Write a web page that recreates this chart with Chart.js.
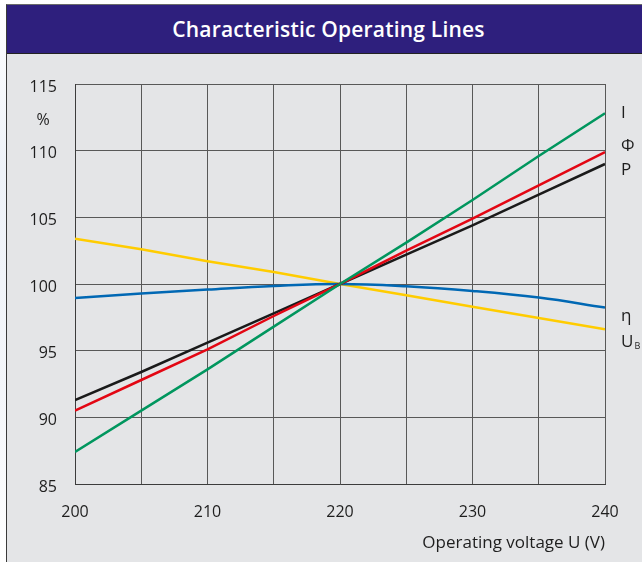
<!DOCTYPE html>
<html>
<head>
<meta charset="utf-8">
<script src="https://cdn.jsdelivr.net/npm/chart.js@4/dist/chart.umd.min.js"></script>
<style>
  html, body { margin: 0; padding: 0; }
  body {
    width: 642px; height: 562px; position: relative; overflow: hidden;
    background: linear-gradient(180deg, #ffffff 0%, #eef2f8 30%, #f4f6fa 70%, #ffffff 100%);
    font-family: "Open Sans", sans-serif;
  }
  #panel {
    position: absolute; left: 6px; top: 4px; right: 0; bottom: 0;
    background: #e4e5e7;
    border-left: 1px solid #3a3a3a;
    border-top: 1px solid #6a6a6a;
  }
  #head {
    position: absolute; left: 7px; top: 5px; right: 0; height: 49px;
    background: #2e1f7d;
    border-bottom: 1px solid #222;
    color: #fff; font-weight: 600; font-size: 21px;
    display: flex; align-items: center; justify-content: center;
    padding-left: 8px; box-sizing: border-box; letter-spacing: 0.2px;
  }
  #chart { position: absolute; left: 0; top: 0; }
</style>
</head>
<body>
<div id="panel"></div>
<div id="head">Characteristic Operating Lines</div>
<canvas id="chart" width="642" height="562"></canvas>
<script>
// Operating voltage in volts
const voltage = [200, 205, 210, 215, 220, 225, 230, 235, 240];

// Relative values in % of the rated value at 220 V
const current   = [87.4, 90.5, 93.6, 96.8, 100, 103.1, 106.3, 109.6, 112.8]; // I
const flux      = [90.5, 92.8, 95.1, 97.6, 100, 102.5, 104.9, 107.4, 109.9]; // Φ
const power     = [91.3, 93.4, 95.6, 97.8, 100, 102.2, 104.4, 106.7, 109.0]; // P
const efficacy  = [98.95, 99.28, 99.58, 99.85, 100, 99.83, 99.48, 98.98, 98.23]; // η
const burnVolt  = [103.4, 102.6, 101.7, 100.9, 100, 99.15, 98.3, 97.45, 96.6]; // U_B

const xTicks = [200, 210, 220, 230, 240];
const yTicks = [85, 90, 95, 100, 105, 110, 115];

const seriesNames = ['I', 'Φ', 'P', 'η', 'U'];

function pts(values) {
  return voltage.map((v, i) => ({ x: v, y: values[i] }));
}

const gridColor = '#585858';
const textColor = '#1e1e1e';

// Series names written beside the right end of each curve
const endLabels = {
  id: 'endLabels',
  afterDatasetsDraw(chart) {
    const ctx = chart.ctx;
    const ys = chart.scales.y;
    const area = chart.chartArea;
    const x = area.right + 16;
    const shifts = [0, -6, 6, 9, 13];
    ctx.save();
    ctx.fillStyle = textColor;
    ctx.textBaseline = 'middle';
    ctx.textAlign = 'left';
    chart.data.datasets.forEach((ds, i) => {
      const last = ds.data[ds.data.length - 1].y;
      const y = ys.getPixelForValue(last) + shifts[i];
      ctx.font = '17px "Open Sans", sans-serif';
      ctx.fillText(seriesNames[i], x, y);
      if (i === 4) {
        const w = ctx.measureText(seriesNames[i]).width;
        ctx.font = '9px "Open Sans", sans-serif';
        ctx.fillText('B', x + w + 1, y + 4);
      }
    });

    // unit of the vertical axis
    ctx.font = '16px "Open Sans", sans-serif';
    ctx.textAlign = 'center';
    ctx.fillText('%', 43, (ys.getPixelForValue(115) + ys.getPixelForValue(110)) / 2 + 3);

    // title of the horizontal axis
    ctx.textAlign = 'right';
    ctx.font = '17px "Open Sans", sans-serif';
    ctx.fillText('Operating voltage U (V)', area.right, area.bottom + 59);
    ctx.restore();
  }
};

new Chart(document.getElementById('chart'), {
  type: 'line',
  data: {
    datasets: [
      { label: 'I', data: pts(current), borderColor: '#00965e' },
      { label: 'Φ', data: pts(flux), borderColor: '#e30613' },
      { label: 'P', data: pts(power), borderColor: '#1a1a1a' },
      { label: 'η', data: pts(efficacy), borderColor: '#0068b4', tension: 0.4 },
      { label: 'UB', data: pts(burnVolt), borderColor: '#ffcc00' }
    ].map(d => Object.assign({ borderWidth: 2.5, pointRadius: 0, fill: false, tension: 0 }, d))
  },
  options: {
    responsive: false,
    animation: false,
    devicePixelRatio: 1,
    layout: { padding: { top: 84, right: 37, left: 0, bottom: 0 } },
    plugins: { legend: { display: false }, tooltip: { enabled: false }, title: { display: false } },
    scales: {
      x: {
        type: 'linear', min: 200, max: 240,
        afterFit(s) { s.height = 78; },
        afterBuildTicks(s) {
          s.ticks = [];
          for (let v = 200; v <= 240; v += 5) s.ticks.push({ value: v });
        },
        ticks: {
          autoSkip: false, maxRotation: 0, padding: 19,
          color: textColor, font: { size: 16, family: '"Open Sans", sans-serif' },
          callback: v => (xTicks.includes(v) ? String(v) : '')
        },
        grid: { color: gridColor, lineWidth: 1, drawTicks: false },
        border: { display: true, color: '#3c3c3c', width: 1 }
      },
      y: {
        type: 'linear', min: 85, max: 115,
        afterFit(s) { s.width = 75; },
        afterBuildTicks(s) { s.ticks = yTicks.map(v => ({ value: v })); },
        ticks: {
          padding: 18, labelOffset: 3,
          color: textColor, font: { size: 16, family: '"Open Sans", sans-serif' },
          callback: v => String(v)
        },
        grid: { color: gridColor, lineWidth: 1, drawTicks: false },
        border: { display: true, color: '#3c3c3c', width: 1 }
      }
    }
  },
  plugins: [endLabels]
});
</script>
</body>
</html>
